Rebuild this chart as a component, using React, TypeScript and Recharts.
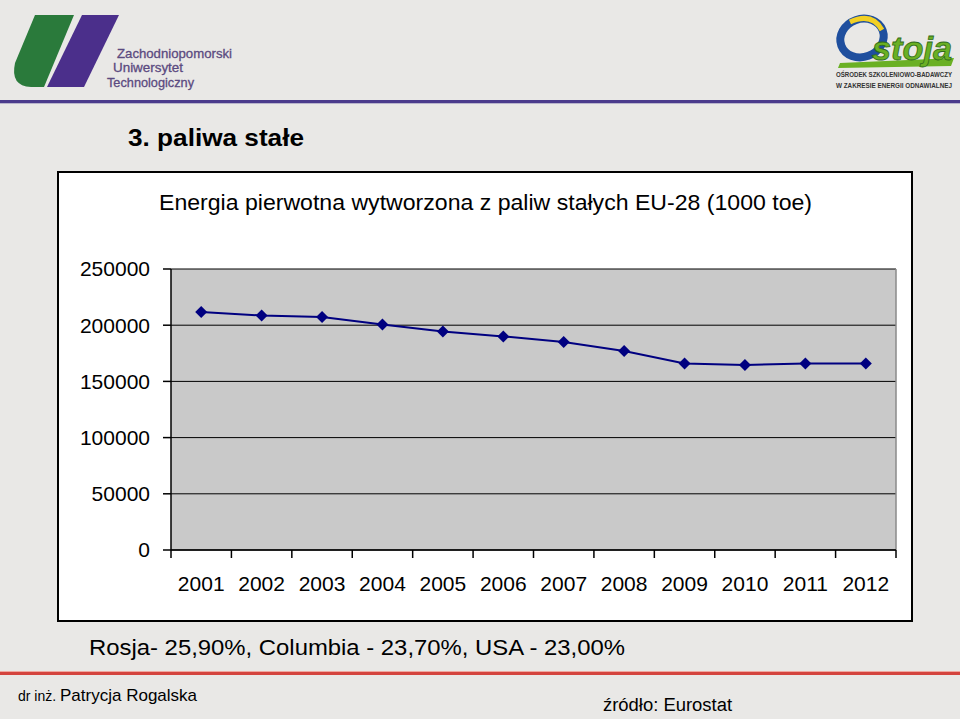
import React from 'react';
import {LineChart, Line, XAxis, YAxis, CartesianGrid, ReferenceLine} from 'recharts';

// Energia pierwotna z paliw stałych, EU-28 (1000 toe)
const years = ['2001', '2002', '2003', '2004', '2005', '2006', '2007', '2008', '2009', '2010', '2011', '2012'];
const energy = [211700, 208600, 207300, 200600, 194400, 190000, 185100, 177000, 165900, 164600, 165900, 165900];
const yTicks = [0, 50000, 100000, 150000, 200000, 250000];

const heading = '3. paliwa stałe';
const chartTitle = 'Energia pierwotna wytworzona z paliw stałych EU-28 (1000 toe)';
const note = 'Rosja- 25,90%, Columbia - 23,70%, USA - 23,00%';
const source = 'źródło: Eurostat';

const data = years.map((year, i) => ({year, pos: i + 0.5, value: energy[i]}));
const edgeTicks = years.map((_, i) => i).concat(years.length);

const FONT = '"Liberation Sans", Arial, sans-serif';

const Diamond = (props: any) => {
    const {cx, cy} = props;
    if (cx == null || cy == null) return null;
    const r = 6;
    return (
        <polygon
            points={`${cx},${cy - r} ${cx + r},${cy} ${cx},${cy + r} ${cx - r},${cy}`}
            fill="#000080"
        />
    );
};

// ticks sit on the category edges, the year label goes in the middle of each band
const YearTick = (props: any) => {
    const {x, y, payload, width} = props;
    const i = payload.value;
    if (i >= years.length) return null;
    const half = width / years.length / 2;
    return (
        <text x={x + half} y={y} dy="0.71em" textAnchor="middle" fontSize={21} fill="#000"
              fontFamily={FONT}>{years[i]}</text>
    );
};

const Slide = () => (
    <svg width={960} height={719} style={{position: 'absolute', left: 0, top: 0}}>
        <rect x={0} y={0} width={960} height={719} fill="#e9e8e6"/>
        {/* left logo */}
        <path d="M35,15 L74,15 L44,87 L31,87 Q10,86 15,63 Z" fill="#2a7a3b"/>
        <path d="M82,15 L119,15 L84,87 L47,87 Z" fill="#4b2f8b"/>
        <g fontFamily={FONT} fontSize={13} fill="#5b4a80" stroke="#5b4a80" strokeWidth={0.3}>
            <text x={117} y={58} textLength={115} lengthAdjust="spacingAndGlyphs">Zachodniopomorski</text>
            <text x={113} y={72} textLength={70} lengthAdjust="spacingAndGlyphs">Uniwersytet</text>
            <text x={107} y={87} textLength={87} lengthAdjust="spacingAndGlyphs">Technologiczny</text>
        </g>
        {/* right logo */}
        <ellipse cx={862} cy={38} rx={22} ry={19} fill="none" stroke="#1f4f9e" strokeWidth={8}
                 transform="rotate(-20 862 38)"/>
        <path d="M850,22 Q872,12 882,30" fill="none" stroke="#f2d024" strokeWidth={5}/>
        <path d="M840,63 L954,58 L951,66 L838,68 Z" fill="#6ab023"/>
        <text x={872} y={60} fontFamily={FONT} fontSize={34} fontWeight="bold" fontStyle="italic"
              fill="#6ab023" stroke="#2f6b1a" strokeWidth={0.8}
              textLength={80} lengthAdjust="spacingAndGlyphs">stoja</text>
        <g fontFamily={FONT} fontSize={6.5} fontWeight="bold" fill="#333">
            <text x={836} y={77} textLength={116} lengthAdjust="spacingAndGlyphs">OŚRODEK SZKOLENIOWO-BADAWCZY</text>
            <text x={836} y={88} textLength={116} lengthAdjust="spacingAndGlyphs">W ZAKRESIE ENERGII ODNAWIALNEJ</text>
        </g>
        {/* header line */}
        <rect x={0} y={100} width={960} height={3} fill="#4b3b8c"/>
        <rect x={0} y={103} width={960} height={1} fill="#b8b4cc"/>
        <text x={128} y={146} fontFamily={FONT} fontSize={24} fontWeight="bold" fill="#000"
              textLength={176} lengthAdjust="spacingAndGlyphs">{heading}</text>
        <text x={89} y={655} fontFamily={FONT} fontSize={22} fill="#000"
              textLength={536} lengthAdjust="spacingAndGlyphs">{note}</text>
        {/* footer */}
        <rect x={0} y={671} width={960} height={1} fill="#f0a8a0"/>
        <rect x={0} y={672} width={960} height={3} fill="#d4443e"/>
        <text x={18} y={701} fontFamily={FONT} fill="#000">
            <tspan fontSize={14}>dr inż. </tspan>
            <tspan fontSize={17}>Patrycja Rogalska</tspan>
        </text>
        <text x={603} y={711} fontFamily={FONT} fontSize={18} fill="#000"
              textLength={129} lengthAdjust="spacingAndGlyphs">{source}</text>
    </svg>
);

const App: React.FC = () => {
    return (
        <div style={{position: 'absolute', left: 0, top: 0, width: 960, height: 719, overflow: 'hidden'}}>
            <Slide/>
            <div style={{
                position: 'absolute', left: 57, top: 171, width: 856, height: 451,
                border: '2px solid #000', boxSizing: 'border-box', background: '#fff'
            }}>
                <LineChart width={852} height={447} data={data}
                           margin={{top: 96, right: 15, bottom: 0, left: 0}}
                           style={{fontFamily: FONT}}>
                    <CartesianGrid xAxisId="t" vertical={false} stroke="#000" fill="#c9c9c9"/>
                    <XAxis xAxisId="t" type="number" dataKey="pos" domain={[0, years.length]}
                           ticks={edgeTicks} interval={0} tick={<YearTick/>} tickSize={8} tickMargin={18}
                           height={70}
                           axisLine={{stroke: '#000', strokeWidth: 1.5}} tickLine={{stroke: '#000', strokeWidth: 1.5}}/>
                    <YAxis type="number" domain={[0, 250000]} ticks={yTicks} interval={0} width={112}
                           tickSize={8} tickMargin={13} axisLine={{stroke: '#000', strokeWidth: 1.5}}
                           tickLine={{stroke: '#000', strokeWidth: 1.5}} tick={{fill: '#000', fontSize: 21}}/>
                    <ReferenceLine xAxisId="t" x={years.length} stroke="#8a8a8a" strokeWidth={1.5}/>
                    <Line xAxisId="t" type="linear" dataKey="value" stroke="#000080" strokeWidth={2}
                          dot={<Diamond/>} activeDot={false} isAnimationActive={false}/>
                </LineChart>
            </div>
            <svg width={960} height={719} style={{position: 'absolute', left: 0, top: 0, pointerEvents: 'none'}}>
                <text x={159} y={210} fontFamily={FONT} fontSize={22} fill="#000"
                      textLength={653} lengthAdjust="spacingAndGlyphs">{chartTitle}</text>
            </svg>
        </div>
    );
};

export default App;
